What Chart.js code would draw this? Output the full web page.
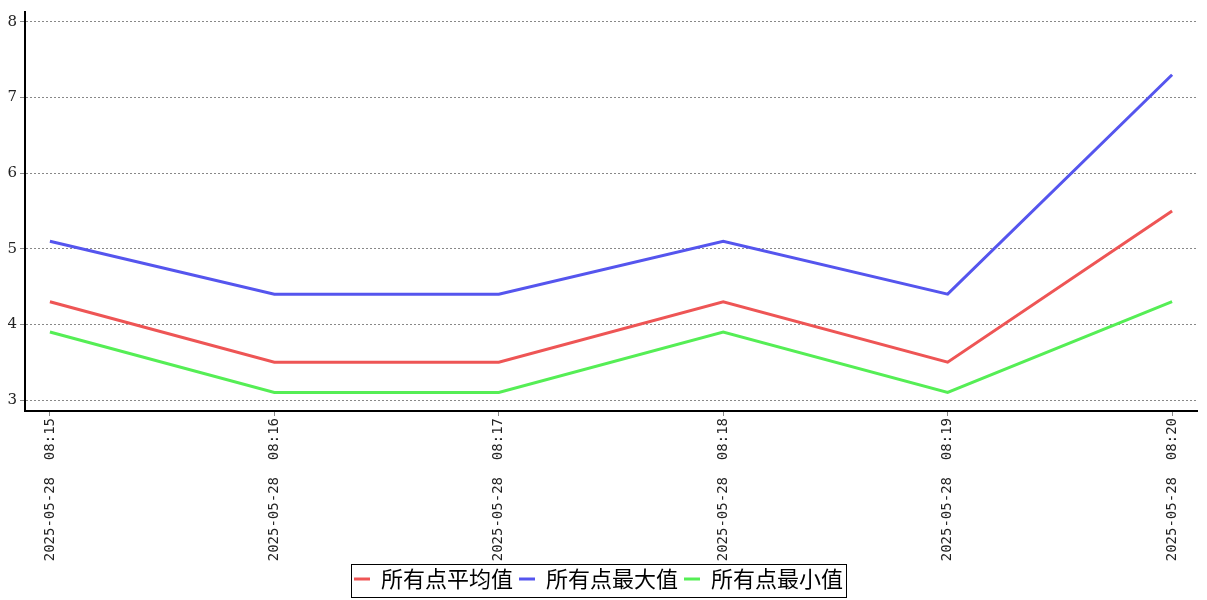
<!DOCTYPE html>
<html>
<head>
<meta charset="utf-8">
<script src="https://cdn.jsdelivr.net/npm/chart.js@4/dist/chart.umd.min.js"></script>
<style>
  html, body { margin: 0; padding: 0; background: #fff; }
</style>
</head>
<body>
<canvas id="chart" width="1207" height="600"></canvas>
<script>
const timeLabels = [
  "2025-05-28  08:15",
  "2025-05-28  08:16",
  "2025-05-28  08:17",
  "2025-05-28  08:18",
  "2025-05-28  08:19",
  "2025-05-28  08:20",
];
const avgValues = [4.3, 3.5, 3.5, 4.3, 3.5, 5.5];
const maxValues = [5.1, 4.4, 4.4, 5.1, 4.4, 7.3];
const minValues = [3.9, 3.1, 3.1, 3.9, 3.1, 4.3];
const yTicks = [3, 4, 5, 6, 7, 8];

const toPoints = arr => arr.map((v, i) => ({ x: i, y: v }));

// draws the thin black frame round the legend items
const legendFrame = {
  id: "legendFrame",
  afterDraw(chart) {
    const boxes = chart.legend && chart.legend.legendHitBoxes;
    if (!boxes || !boxes.length) return;
    const first = boxes[0];
    const last = boxes[boxes.length - 1];
    const ctx = chart.ctx;
    ctx.save();
    ctx.strokeStyle = "#000";
    ctx.lineWidth = 1;
    const left = Math.round(first.left - 3) + 0.5;
    const right = Math.round(last.left + last.width + 3) + 0.5;
    const top = Math.round(first.top - 4) + 0.5;
    const bottom = Math.round(first.top + first.height + 7) + 0.5;
    ctx.strokeRect(left, top, right - left, bottom - top);
    ctx.restore();
  }
};

const ctx = document.getElementById("chart").getContext("2d");
new Chart(ctx, {
  type: "line",
  data: {
    datasets: [
      { label: "所有点平均值", data: toPoints(avgValues), borderColor: "#ee5555", backgroundColor: "#ee5555" },
      { label: "所有点最大值", data: toPoints(maxValues), borderColor: "#5555ee", backgroundColor: "#5555ee" },
      { label: "所有点最小值", data: toPoints(minValues), borderColor: "#55ee55", backgroundColor: "#55ee55" },
    ],
  },
  options: {
    responsive: false,
    animation: false,
    elements: {
      line: { borderWidth: 3, tension: 0 },
      point: { radius: 0, hoverRadius: 0 },
    },
    layout: { padding: { top: 10, right: 10, left: 0, bottom: 0 } },
    plugins: {
      tooltip: { enabled: false },
      legend: {
        position: "bottom",
        labels: {
          color: "#222",
          font: { family: "'Noto Sans CJK SC', sans-serif", size: 22 },
          boxWidth: 16,
          boxHeight: 3,
          padding: 6,
          generateLabels(chart) {
            return chart.data.datasets.map((ds, i) => ({
              text: ds.label,
              fillStyle: ds.borderColor,
              strokeStyle: ds.borderColor,
              lineWidth: 0,
              datasetIndex: i,
            }));
          },
        },
      },
    },
    scales: {
      x: {
        type: "linear",
        min: -0.111,
        max: 5.111,
        afterBuildTicks(scale) {
          scale.ticks = timeLabels.map((_, i) => ({ value: i }));
        },
        afterFit(scale) { scale.height = 151; },
        ticks: {
          autoSkip: false,
          minRotation: 90,
          maxRotation: 90,
          color: "#222",
          padding: 2,
          font: { family: "'DejaVu Sans Mono', monospace", size: 14 },
          callback: value => timeLabels[value],
        },
        grid: { drawOnChartArea: false, drawTicks: true, tickLength: 5, color: "#888" },
        border: { color: "#000", width: 2 },
      },
      y: {
        min: 2.855,
        max: 8.13,
        afterBuildTicks(scale) {
          scale.ticks = yTicks.map(v => ({ value: v }));
        },
        afterFit(scale) { scale.width = 25; },
        ticks: {
          color: "#222",
          padding: 3,
          font: { family: "'DejaVu Serif', serif", size: 15 },
        },
        grid: { color: "#888", tickLength: 5, lineWidth: 1 },
        border: { color: "#000", width: 2, dash: [2, 2] },
      },
    },
  },
  plugins: [legendFrame],
});
</script>
</body>
</html>
